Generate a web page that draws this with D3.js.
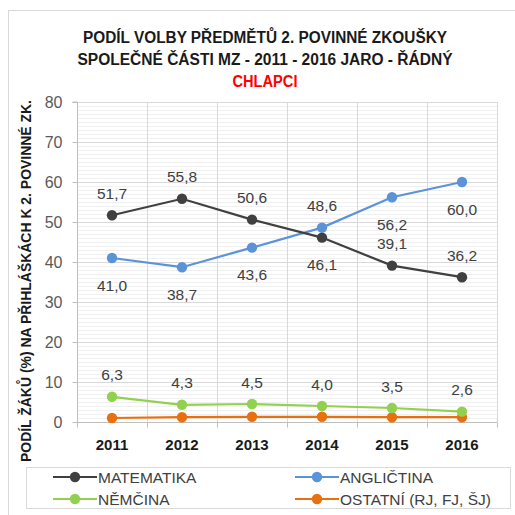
<!DOCTYPE html>
<html><head><meta charset="utf-8">
<script src="https://cdn.jsdelivr.net/npm/d3@7"></script>
<style>body{margin:0;background:#fff}svg{display:block}</style>
</head><body>
<svg id="c" width="515" height="515"></svg>
<script>
const years = ["2011","2012","2013","2014","2015","2016"];
const matematika = [51.7, 55.8, 50.6, 46.1, 39.1, 36.2];
const anglictina = [41.0, 38.7, 43.6, 48.6, 56.2, 60.0];
const nemcina = [6.3, 4.3, 4.5, 4.0, 3.5, 2.6];
const ostatni = [1.0, 1.2, 1.3, 1.3, 1.2, 1.2];
const yTicks = [0,10,20,30,40,50,60,70,80];
const seriesNames = ["MATEMATIKA","ANGLIČTINA","NĚMČINA","OSTATNÍ (RJ, FJ, ŠJ)"];
// label placement: -1 above, 1 below
const matPos = [-1,-1,-1,1,-1,-1];
const angPos = [1,1,1,-1,1,1];
const nemPos = [-1,-1,-1,-1,-1,-1];

const series = [
  {name: seriesNames[0], values: matematika, color: "#404040", labels: matPos},
  {name: seriesNames[1], values: anglictina, color: "#5b93d8", labels: angPos},
  {name: seriesNames[2], values: nemcina, color: "#92d050", labels: nemPos},
  {name: seriesNames[3], values: ostatni, color: "#e8700e", labels: null}
];

const svg = d3.select("#c");
const font = "'Liberation Sans', Arial, sans-serif";
const L = 77, R = 497, T = 102, B = 422;

svg.append("rect").attr("x",8.5).attr("y",10.5).attr("width",520).attr("height",520)
  .attr("fill","#fff").attr("stroke","#d9d9d9");

// title
svg.append("text").attr("x",265).attr("y",43).attr("text-anchor","middle")
  .attr("font-family",font).attr("font-weight","bold").attr("font-size",16).attr("fill","#1a1a1a")
  .attr("textLength",364).attr("lengthAdjust","spacingAndGlyphs")
  .text("PODÍL VOLBY PŘEDMĚTŮ 2. POVINNÉ ZKOUŠKY");
svg.append("text").attr("x",265).attr("y",65).attr("text-anchor","middle")
  .attr("font-family",font).attr("font-weight","bold").attr("font-size",16).attr("fill","#1a1a1a")
  .attr("textLength",375).attr("lengthAdjust","spacingAndGlyphs")
  .text("SPOLEČNÉ ČÁSTI MZ - 2011 - 2016 JARO - ŘÁDNÝ");
svg.append("text").attr("x",265).attr("y",87).attr("text-anchor","middle")
  .attr("font-family",font).attr("font-weight","bold").attr("font-size",16).attr("fill","#ff0000")
  .attr("textLength",65).attr("lengthAdjust","spacingAndGlyphs")
  .text("CHLAPCI");

const x = d3.scaleBand().domain(years).range([L,R]).padding(0);
const y = d3.scaleLinear().domain([0,80]).range([B,T]);

// minor gridlines
const g = svg.append("g");
g.selectAll("line.minor").data(d3.range(1,80).filter(v=>v%10!==0)).enter().append("line")
  .attr("x1",L).attr("x2",R).attr("y1",d=>Math.round(y(d))+0.5).attr("y2",d=>Math.round(y(d))+0.5)
  .attr("stroke","#f0f0f0").attr("stroke-width",1);
// major gridlines
g.selectAll("line.major").data(yTicks.slice(1)).enter().append("line")
  .attr("x1",L).attr("x2",R).attr("y1",d=>Math.round(y(d))+0.5).attr("y2",d=>Math.round(y(d))+0.5)
  .attr("stroke","#d9d9d9");
// vertical gridlines
const bounds = years.map(d=>x(d)).concat([R]);
g.selectAll("line.v").data(bounds.slice(1)).enter().append("line")
  .attr("x1",d=>Math.round(d)+0.5).attr("x2",d=>Math.round(d)+0.5).attr("y1",T).attr("y2",B)
  .attr("stroke","#d9d9d9");

// y axis
const yAxis = svg.append("g").attr("transform",`translate(${L+0.5},0)`)
  .call(d3.axisLeft(y).tickValues(yTicks).tickSize(5).tickPadding(10).tickFormat(d3.format("d")));
yAxis.select(".domain").attr("stroke","#bfbfbf").attr("d",`M-5,${T}H0V${B}`);
yAxis.selectAll(".tick line").attr("stroke","#bfbfbf");
yAxis.selectAll(".tick text").attr("font-family",font).attr("font-size",16).attr("fill","#595959");

// x axis
const xAxis = svg.append("g").attr("transform",`translate(0,${B+0.5})`)
  .call(d3.axisBottom(x).tickSize(0).tickPadding(17));
xAxis.select(".domain").attr("stroke","#bfbfbf").attr("d",`M${L},0H${R}`);
xAxis.selectAll(".tick text").attr("font-family",font).attr("font-size",15).attr("font-weight","bold").attr("fill","#1a1a1a");
xAxis.selectAll("line.xt").data(bounds).enter().append("line")
  .attr("x1",d=>Math.round(d)+0.5).attr("x2",d=>Math.round(d)+0.5).attr("y1",0).attr("y2",5)
  .attr("stroke","#bfbfbf");

// y label
svg.append("text").attr("transform","translate(31,281) rotate(-90)").attr("text-anchor","middle")
  .attr("font-family",font).attr("font-weight","bold").attr("font-size",15).attr("fill","#1a1a1a")
  .attr("textLength",362).attr("lengthAdjust","spacingAndGlyphs")
  .text("PODÍL ŽÁKŮ (%) NA PŘIHLÁŠKÁCH K 2. POVINNÉ ZK.");

const cx = (d,i) => x(years[i]) + x.bandwidth()/2;
const line = d3.line().x((d,i)=>cx(d,i)).y(d=>y(d));
const fmt = v => v.toFixed(1).replace(".",",");

series.slice().reverse().forEach(s=>{
  svg.append("path").attr("d",line(s.values)).attr("fill","none").attr("stroke",s.color).attr("stroke-width",2.2);
  svg.selectAll(null).data(s.values).enter().append("circle")
    .attr("cx",(d,i)=>cx(d,i)).attr("cy",d=>y(d)).attr("r",5.2).attr("fill",s.color);
});
series.forEach(s=>{
  if(!s.labels) return;
  svg.selectAll(null).data(s.values).enter().append("text")
    .attr("x",(d,i)=>cx(d,i)).attr("y",(d,i)=>y(d) + (s.labels[i]<0 ? -16.5 : 32.5))
    .attr("text-anchor","middle").attr("font-family",font).attr("font-size",15.5).attr("fill","#404040")
    .text(d=>fmt(d));
});

// legend
svg.append("rect").attr("x",26.5).attr("y",467.5).attr("width",484).attr("height",41)
  .attr("fill","#fff").attr("stroke","#d9d9d9");
const legPos = [[53,477],[295,477],[53,499],[295,499]];
series.forEach((s,i)=>{
  const [lx,ly] = legPos[i];
  svg.append("line").attr("x1",lx).attr("x2",lx+44).attr("y1",ly).attr("y2",ly).attr("stroke",s.color).attr("stroke-width",2.2);
  svg.append("circle").attr("cx",lx+22).attr("cy",ly).attr("r",5.2).attr("fill",s.color);
  svg.append("text").attr("x",lx+45).attr("y",ly+5.5).attr("font-family",font).attr("font-size",15.5)
    .attr("fill","#404040").text(s.name);
});
</script>
</body></html>
